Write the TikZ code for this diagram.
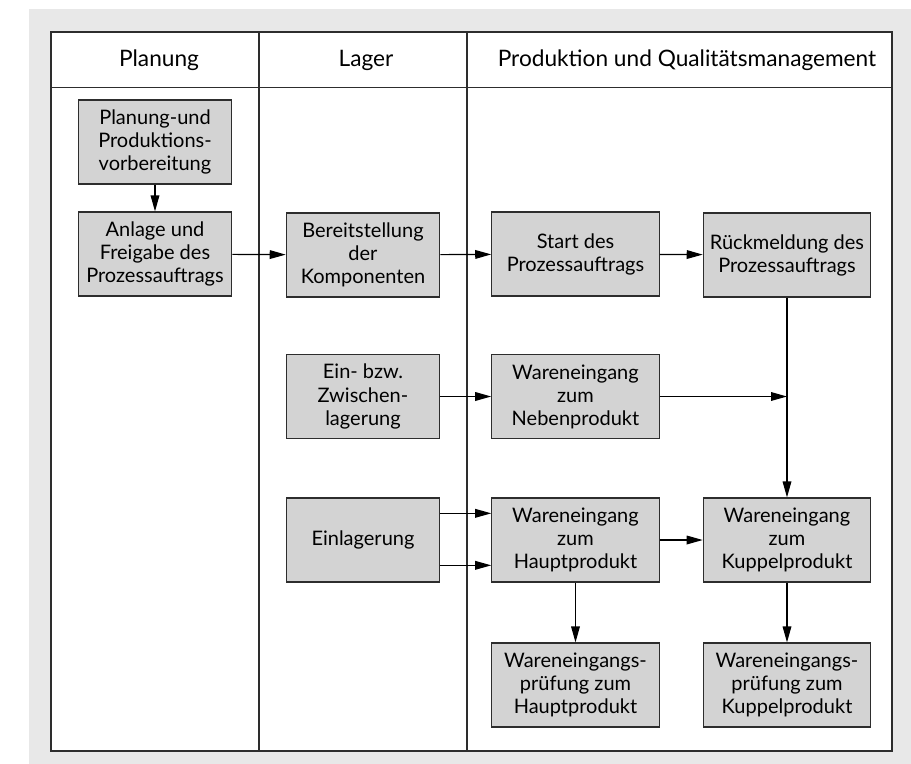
\documentclass[tikz,border=0pt]{standalone}
\usepackage{fontspec}
\setmainfont{Lato}
\usetikzlibrary{arrows.meta}
\definecolor{boxgray}{RGB}{211,211,211}
\definecolor{pagegray}{RGB}{232,232,232}
\definecolor{linegray}{RGB}{45,45,45}
\tikzset{
  txt/.style={font=\fontsize{17pt}{20pt}\selectfont},
  box/.style={font=\fontsize{15pt}{17.3pt}\selectfont, draw=linegray, fill=boxgray,
    line width=0.9pt, align=center, inner sep=2pt, minimum height=63pt},
  narrow/.style={box, minimum width=115pt},
  wide/.style={box, minimum width=125.5pt},
  frame/.style={draw=linegray, line width=0.9pt},
  flow/.style={-{Triangle[length=12pt,width=6.5pt]}, line width=0.9pt},
}
\begin{document}
\begin{tikzpicture}[x=0.75pt,y=-0.75pt]
      \useasboundingbox (0,0) rectangle (911,764);
      \fill[pagegray] (29,9) rectangle (911,764);
      \fill[white] (51,32) rectangle (892,751);
      % swimlanes
      \draw[frame] (51,32) rectangle (892,751);
      \draw[frame] (51,87.5) -- (892,87.5);
      \draw[frame] (259,32) -- (259,751);
      \draw[frame] (467,32) -- (467,751);
      \draw
        (159,60) node[txt] (planung){Planung}
        (366,60) node[txt] (lager){Lager}
        (687,60) node[txt] (produktion){Produktion und Qualitätsmanagement};
      % process steps
      \draw
        (155,142) node[narrow] (vorb){Planung-und\\Produktions-\\vorbereitung}
        (155,254) node[narrow] (anlage){Anlage und\\Freigabe des\\Prozessauftrags}
        (363,255) node[narrow] (bereit){Bereitstellung\\der\\Komponenten}
        (575.5,254) node[wide] (start){Start des\\Prozessauftrags}
        (787,255) node[wide] (rueck){Rückmeldung des\\Prozessauftrags}
        (363,396.5) node[narrow] (zwischen){Ein- bzw.\\Zwischen-\\lagerung}
        (575.5,396.5) node[wide] (neben){Wareneingang\\zum\\Nebenprodukt}
        (363,540) node[narrow] (einlag){Einlagerung}
        (575.5,540) node[wide] (haupt){Wareneingang\\zum\\Hauptprodukt}
        (787,540) node[wide] (kuppel){Wareneingang\\zum\\Kuppelprodukt}
        (575.5,685) node[wide] (pruefh){Wareneingangs-\\prüfung zum\\Hauptprodukt}
        (787,685) node[wide] (pruefk){Wareneingangs-\\prüfung zum\\Kuppelprodukt};
      \coordinate (merge) at (787,396.5);
      \begin{scope}[flow]
        \draw (vorb) to (anlage);
        \draw (anlage) to (bereit);
        \draw (bereit) to (start);
        \draw (start) to (rueck);
        \draw (zwischen) to (neben);
        \draw (neben) to (merge);
        \draw (rueck) to (kuppel);
        \draw ([yshift=20pt]einlag.east) to ([yshift=20pt]haupt.west);
        \draw ([yshift=-19pt]einlag.east) to ([yshift=-19pt]haupt.west);
        \draw (haupt) to (kuppel);
        \draw (haupt) to (pruefh);
        \draw (kuppel) to (pruefk);
      \end{scope}
    \end{tikzpicture}
\end{document}
